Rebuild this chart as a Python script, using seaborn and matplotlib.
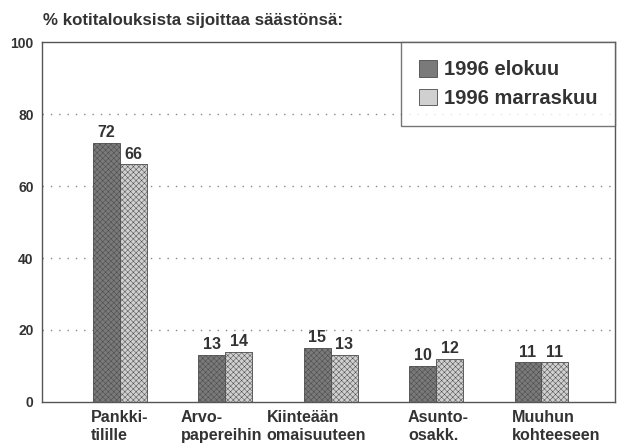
import pandas as pd
import seaborn as sns
import matplotlib.pyplot as plt

# Data
categories = ["Pankki-\ntilille", "Arvo-\npapereihin", "Kiinteään\nomaisuuteen",
              "Asunto-\nosakk.", "Muuhun\nkohteeseen"]
series = ["1996 elokuu", "1996 marraskuu"]
elokuu = [72, 13, 15, 10, 11]
marraskuu = [66, 14, 13, 12, 11]
yticks = [0, 20, 40, 60, 80, 100]

# left edge of each category label relative to its bar group centre
label_shift = [-0.276, -0.42, -0.61, -0.267, -0.276]

df = pd.DataFrame({
    "kohde": categories * 2,
    "sarja": [series[0]] * len(categories) + [series[1]] * len(categories),
    "osuus": elokuu + marraskuu,
})

sns.set_style("white")
plt.rcParams["font.family"] = ["Liberation Sans", "DejaVu Sans"]
plt.rcParams["font.weight"] = "bold"
plt.rcParams["hatch.linewidth"] = 0.35

fig = plt.figure(figsize=(6.22, 4.46), dpi=100)
ax = fig.add_axes([0.0675, 0.0987, 0.9215, 0.807])

palette = {series[0]: "#7a7a7a", series[1]: "#d0d0d0"}
sns.barplot(data=df, x="kohde", y="osuus", hue="sarja", palette=palette,
            width=0.51, edgecolor="#4a4a4a", linewidth=0.6, ax=ax,
            saturation=1)

# fine stipple pattern like the print
for bar_container in ax.containers:
    for p in bar_container:
        p.set_hatch("xxxxxx")
    ax.bar_label(bar_container, fontsize=11.5, fontweight="bold", color="#333333", padding=2)

ax.set_ylim(0, 100)
ax.set_xlim(-0.74, 4.70)
ax.set_yticks(yticks)
ax.set_yticklabels([str(v) for v in yticks], fontsize=10, fontweight="bold", color="#333333")
ax.set_xticks([i + s for i, s in enumerate(label_shift)])
ax.set_xticklabels(categories, fontsize=11.6, fontweight="bold", color="#333333",
                   ha="left", linespacing=1.2)
ax.tick_params(axis="x", length=0, pad=6)
ax.tick_params(axis="y", length=0, pad=6)
ax.set_xlabel("")
ax.set_ylabel("")

for y in yticks[1:-1]:
    ax.axhline(y, color="#888888", linestyle=(0, (1, 5)), linewidth=1, zorder=0)

for s in ax.spines.values():
    s.set_visible(True)
    s.set_color("#555555")
    s.set_linewidth(1)

leg = ax.legend(loc="upper right", borderaxespad=0, fontsize=14.5, frameon=True,
                fancybox=False, edgecolor="#555555", handlelength=0.9, handleheight=0.9,
                handletextpad=0.3, borderpad=0.9, labelspacing=0.45)
leg.get_frame().set_linewidth(1)
for t in leg.get_texts():
    t.set_color("#333333")

fig.text(0.069, 0.955, "% kotitalouksista sijoittaa säästönsä:", fontsize=12.2,
         fontweight="bold", color="#333333", va="center")

fig.savefig("out.png", dpi=100, facecolor="white")
